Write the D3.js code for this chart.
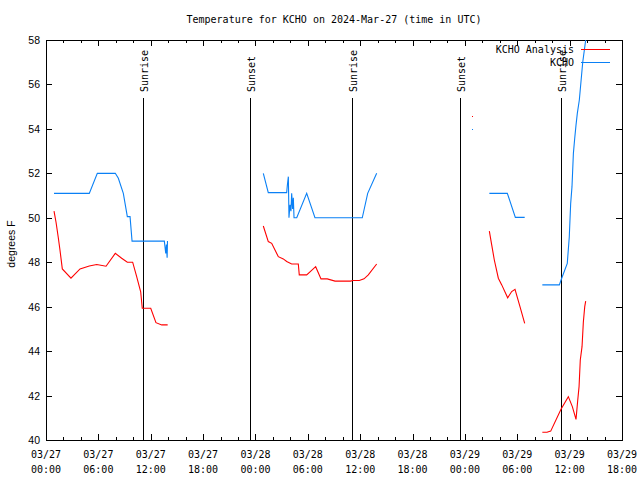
<!DOCTYPE html>
<html>
<head>
<meta charset="utf-8">
<script src="https://cdn.jsdelivr.net/npm/d3@7/dist/d3.min.js"></script>
<style>
  html, body { margin: 0; padding: 0; background: #fff; }
  svg { display: block; }
  .mono { font-family: "DejaVu Sans Mono", "Liberation Mono", monospace; font-size: 10px; fill: #000; }
  .sans { font-family: "Liberation Sans", Arial, sans-serif; font-size: 10.5px; fill: #000; }
</style>
</head>
<body>
<script>
// ---- Data (hours since 2024-03-27 00:00 UTC) ----
const titleText = "Temperature for KCHO on 2024-Mar-27 (time in UTC)";
const yLabel = "degrees F";
const seriesNames = ["KCHO Analysis", "KCHO"];
const seriesColors = ["#ff0000", "#0a80f5"];

const xTickHours = [0, 6, 12, 18, 24, 30, 36, 42, 48, 54, 60, 66];
const xTickDates = ["03/27","03/27","03/27","03/27","03/28","03/28","03/28","03/28","03/29","03/29","03/29","03/29"];
const xTickTimes = ["00:00","06:00","12:00","18:00","00:00","06:00","12:00","18:00","00:00","06:00","12:00","18:00"];
const yTicks = [40, 42, 44, 46, 48, 50, 52, 54, 56, 58];

const sunEventHours = [11.11, 23.38, 35.06, 47.44, 59.01];
const sunEventNames = ["Sunrise", "Sunset", "Sunrise", "Sunset", "Sunrise"];

// null = gap in data
const analysisHours = [
  0.92, 1.15, 1.41, 1.6, 1.87, 2.86, 3.9, 4.96, 5.81, 6.88, 7.94, 8.67, 9.32, 9.93, 10.39, 10.85, 11.03, 12.0, 12.6, 13.26, 13.94,
  null,
  24.9, 25.47, 25.86, 26.62, 27.19, 27.58, 28.15, 28.91, 29.02, 29.87, 30.9, 31.51, 32.23, 33.12, 34.91, 35.14, 35.9, 36.44, 36.93, 37.89,
  null,
  48.85,
  null,
  50.8, 51.07, 51.37, 51.83, 52.22, 52.9, 53.36, 53.74, 54.31, 54.85,
  null,
  56.87, 57.4, 57.83, 59.01, 59.85, 60.31, 60.73, 60.93, 61.08, 61.22, 61.42, 61.57, 61.73, 61.84
];
const analysisTemps = [
  50.3, 49.8, 49.1, 48.55, 47.7, 47.28, 47.7, 47.83, 47.9, 47.82, 48.4, 48.18, 48.0, 48.0, 47.35, 46.67, 45.93, 45.93, 45.28, 45.18, 45.18,
  null,
  49.63, 48.93, 48.85, 48.25, 48.15, 48.03, 47.92, 47.92, 47.43, 47.43, 47.8, 47.25, 47.25, 47.15, 47.15, 47.18, 47.18, 47.25, 47.43, 47.92,
  null,
  54.6,
  null,
  49.4, 48.78, 48.1, 47.28, 46.98, 46.4, 46.68, 46.78, 46.0, 45.25,
  null,
  40.35, 40.35, 40.4, 41.38, 41.95, 41.5, 40.93, 41.8, 42.4, 43.6, 44.2, 45.3, 46.0, 46.25
];

const obsHours = [
  0.92, 4.96, 5.88, 7.94, 8.29, 8.86, 9.32, 9.63, 9.86, 13.56, 13.72, 13.8, 13.88, 13.92,
  null,
  24.9, 25.47, 27.58, 27.65, 27.77, 27.84, 27.96, 28.07, 28.15, 28.26, 28.34, 28.42, 28.73, 29.87, 30.82, 36.24, 36.86, 37.89,
  null,
  48.85,
  null,
  50.8, 52.86, 53.78, 54.85,
  null,
  56.87, 58.82, 59.09, 59.73, 59.96, 60.12, 60.27, 60.43, 60.58, 60.73, 60.88, 61.11, 61.5, 61.84, 61.95
];
const obsTemps = [
  51.1, 51.1, 52.0, 52.0, 51.78, 51.1, 50.05, 50.05, 48.95, 48.95, 48.4, 48.8, 48.2, 48.95,
  null,
  52.0, 51.13, 51.13, 51.45, 51.85, 50.0, 50.58, 50.3, 51.1, 50.4, 50.9, 50.0, 50.0, 51.1, 50.0, 50.0, 51.1, 52.0,
  null,
  53.98,
  null,
  51.1, 51.1, 50.02, 50.02,
  null,
  46.98, 46.98, 47.28, 47.95, 49.15, 50.65, 51.4, 52.9, 53.57, 54.17, 54.7, 55.3, 57.0, 58.0, 58.4
];

// ---- Chart ----
const W = 640, H = 480;
const plot = { left: 46, right: 622, top: 40, bottom: 440 };

const svg = d3.select("body").append("svg").attr("width", W).attr("height", H);

const x = d3.scaleLinear().domain([0, 66]).range([plot.left, plot.right]);
const y = d3.scaleLinear().domain([40, 58]).range([plot.bottom, plot.top]);

svg.append("defs").append("clipPath").attr("id", "clip")
  .append("rect").attr("x", plot.left).attr("y", plot.top)
  .attr("width", plot.right - plot.left).attr("height", plot.bottom - plot.top);

// Title
svg.append("text").attr("class", "mono")
  .attr("x", (plot.left + plot.right) / 2).attr("y", 23)
  .attr("text-anchor", "middle").text(titleText);

// Y label
svg.append("text").attr("class", "sans")
  .attr("transform", `translate(15,${(plot.top + plot.bottom) / 2 + 4}) rotate(-90)`)
  .attr("text-anchor", "middle").text(yLabel);

// Axes with inward ticks
const minorHours = d3.range(0, 67, 2).filter(h => h % 6 !== 0);
function styleAxis(g) {
  g.select(".domain").remove();
  g.selectAll("line").attr("stroke", "#000").attr("shape-rendering", "crispEdges");
}
svg.append("g").attr("transform", `translate(0,${plot.bottom})`)
  .call(d3.axisBottom(x).tickValues(xTickHours).tickSize(-6).tickFormat("")).call(styleAxis);
svg.append("g").attr("transform", `translate(0,${plot.bottom})`)
  .call(d3.axisBottom(x).tickValues(minorHours).tickSize(-3).tickFormat("")).call(styleAxis);
svg.append("g").attr("transform", `translate(0,${plot.top})`)
  .call(d3.axisTop(x).tickValues(xTickHours).tickSize(-6).tickFormat("")).call(styleAxis);
svg.append("g").attr("transform", `translate(0,${plot.top})`)
  .call(d3.axisTop(x).tickValues(minorHours).tickSize(-3).tickFormat("")).call(styleAxis);
svg.append("g").attr("transform", `translate(${plot.left},0)`)
  .call(d3.axisLeft(y).tickValues(yTicks).tickSize(-6).tickFormat("")).call(styleAxis);
svg.append("g").attr("transform", `translate(${plot.right},0)`)
  .call(d3.axisRight(y).tickValues(yTicks).tickSize(-6).tickFormat("")).call(styleAxis);

// Tick labels
yTicks.forEach(v => {
  svg.append("text").attr("class", "sans")
    .attr("x", plot.left - 6).attr("y", y(v) + 4)
    .attr("text-anchor", "end").text(v);
});
xTickHours.forEach((h, i) => {
  const t = svg.append("text").attr("class", "mono").attr("text-anchor", "middle");
  t.append("tspan").attr("x", x(h)).attr("y", plot.bottom + 18).text(xTickDates[i]);
  t.append("tspan").attr("x", x(h)).attr("y", plot.bottom + 33).text(xTickTimes[i]);
});

// Border
svg.append("rect").attr("x", plot.left + 0.5).attr("y", plot.top + 0.5)
  .attr("width", plot.right - plot.left).attr("height", plot.bottom - plot.top)
  .attr("fill", "none").attr("stroke", "#000").attr("shape-rendering", "crispEdges");

// Sun events
sunEventHours.forEach((h, i) => {
  const xx = Math.round(x(h)) + 0.5;
  svg.append("line").attr("x1", xx).attr("x2", xx).attr("y1", 98).attr("y2", plot.bottom)
    .attr("stroke", "#000").attr("shape-rendering", "crispEdges");
  svg.append("text").attr("class", "mono")
    .attr("transform", `translate(${xx + 4},92) rotate(-90)`)
    .attr("text-anchor", "start").text(sunEventNames[i]);
});

// Series
function segments(hours, temps) {
  const segs = []; let cur = [];
  hours.forEach((h, i) => {
    if (h === null || temps[i] === null) { if (cur.length) segs.push(cur); cur = []; }
    else cur.push([h, temps[i]]);
  });
  if (cur.length) segs.push(cur);
  return segs;
}
const line = d3.line().x(d => x(d[0])).y(d => y(d[1]));
const gData = svg.append("g").attr("clip-path", "url(#clip)");
[[analysisHours, analysisTemps], [obsHours, obsTemps]].forEach(([hs, ts], k) => {
  segments(hs, ts).forEach(seg => {
    if (seg.length === 1) {
      gData.append("rect").attr("x", Math.round(x(seg[0][0]))).attr("y", Math.round(y(seg[0][1])))
        .attr("width", 1).attr("height", 1).attr("fill", seriesColors[k]);
    } else {
      gData.append("path").attr("d", line(seg)).attr("fill", "none")
        .attr("stroke", seriesColors[k]).attr("stroke-width", 1.1);
    }
  });
});

// Legend
seriesNames.forEach((name, k) => {
  const ly = 49 + k * 13;
  svg.append("text").attr("class", "mono")
    .attr("x", 574).attr("y", ly + 3.5).attr("text-anchor", "end").text(name);
  svg.append("line").attr("x1", 581).attr("x2", 610).attr("y1", ly + 0.5).attr("y2", ly + 0.5)
    .attr("stroke", seriesColors[k]).attr("stroke-width", 1);
});
</script>
</body>
</html>
